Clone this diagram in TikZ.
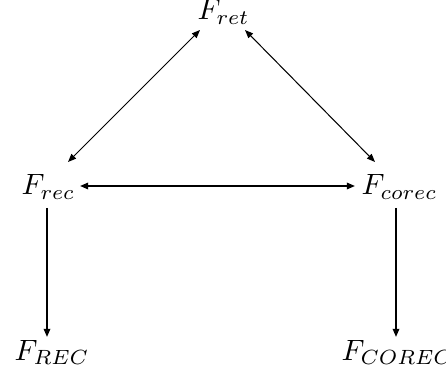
\documentclass[tikz,border=0pt]{standalone}
\usetikzlibrary{arrows.meta,calc}
\begin{document}
\begin{tikzpicture}[x=0.34pt,y=-0.34pt,
  lbl/.style={inner sep=0pt,anchor=base west},
  thinarr/.style={line width=0.35pt,{Triangle[length=2.8pt,width=2.2pt]}-{Triangle[length=2.8pt,width=2.2pt]}},
  thickarr/.style={line width=0.6pt},
  tip/.style={-{Triangle[length=2.8pt,width=2.2pt]}},
  bitip/.style={{Triangle[length=2.8pt,width=2.2pt]}-{Triangle[length=2.8pt,width=2.2pt]}}]
\useasboundingbox (0,0) rectangle (446,383);
\node[lbl] (ret) at (197,20) {$F_{ret}$};
\node[lbl] (rec) at (21,195) {$F_{rec}$};
\node[lbl] (corec) at (361,195) {$F_{corec}$};
\node[lbl] (REC) at (14,360) {$F_{REC}$};
\node[lbl] (COREC) at (341,360) {$F_{COREC}$};
\draw[thinarr] ($(ret.base west)+(3,10)$) -- ($(rec.base west)+(47,-33)$);
\draw[thinarr] ($(ret.base west)+(48,10)$) -- ($(corec.base west)+(14,-33)$);
\draw[thickarr,bitip] ($(rec.base west)+(59,-9)$) -- ($(corec.base west)+(-6,-9)$);
\draw[thickarr,tip] ($(rec.base west)+(26,13)$) -- ($(REC.base west)+(33,-23)$);
\draw[thickarr,tip] ($(corec.base west)+(35,13)$) -- ($(COREC.base west)+(55,-23)$);
\end{tikzpicture}
\end{document}
